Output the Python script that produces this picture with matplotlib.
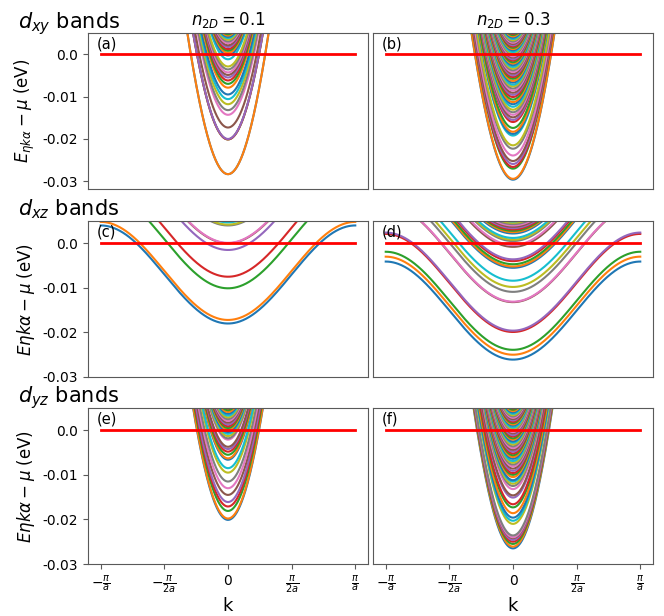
import matplotlib
matplotlib.use('Agg')
import matplotlib.pyplot as plt
import numpy as np

plt.rcParams['axes.unicode_minus'] = False
plt.rcParams['axes.edgecolor'] = '0.35'
plt.rcParams['xtick.color'] = '0.35'
plt.rcParams['ytick.color'] = '0.35'
plt.rcParams['xtick.labelcolor'] = 'black'
plt.rcParams['ytick.labelcolor'] = 'black'

# band minima (eV, relative to mu)
dxy_01 = [-0.0283, -0.0283, -0.0201, -0.0201, -0.0200, -0.0173, -0.0143, -0.0132, -0.0118, -0.0106,
          -0.0095, -0.0079, -0.0070, -0.0062, -0.0055, -0.0049, -0.0043, -0.0036, -0.0029, -0.0012,
          -0.0003, 0.0003, 0.0008, 0.0012, 0.0017, 0.0021, 0.0026, 0.0030, 0.0034, 0.0038,
          0.0041, 0.0044, 0.0047]
dxy_03 = [-0.0296, -0.0294, -0.0270, -0.0266, -0.0259, -0.0252, -0.0239, -0.0223, -0.0215, -0.0192,
          -0.0188, -0.0183, -0.0174, -0.0160, -0.0155, -0.0149, -0.0143, -0.0137, -0.0131, -0.0124,
          -0.0118, -0.0113, -0.0107, -0.0101, -0.0096, -0.0091, -0.0086, -0.0081, -0.0076, -0.0072,
          -0.0067, -0.0063, -0.0058, -0.0054, -0.0050, -0.0046, -0.0042, -0.0038, -0.0034, -0.0030,
          -0.0026, -0.0022, -0.0019, -0.0015, -0.0012, -0.0008, -0.0005, -0.0001, 0.0002, 0.0005,
          0.0009, 0.0012, 0.0015, 0.0018, 0.0021, 0.0024, 0.0027, 0.0030, 0.0033, 0.0036,
          0.0039, 0.0042, 0.0045, 0.0048]
dxz_01 = [-0.0180, -0.0172, -0.0101, -0.0075, -0.0015, 0.0000, 0.0001, 0.0040, 0.0042, 0.0047]
dxz_03 = [-0.0261, -0.0250, -0.0239, -0.0199, -0.0196, -0.0132, -0.0131, -0.0109, -0.0098, -0.0084,
          -0.0055, -0.0052, -0.0047, -0.0040, -0.0036, -0.0008, -0.0004, 0.0005, 0.0008, 0.0012,
          0.0022, 0.0025, 0.0028, 0.0031, 0.0034, 0.0037, 0.0040, 0.0043, 0.0046, 0.0049]
dyz_01 = [-0.0201, -0.0198, -0.0181, -0.0171, -0.0161, -0.0145, -0.0130, -0.0115, -0.0095, -0.0085,
          -0.0066, -0.0063, -0.0055, -0.0048, -0.0042, -0.0037, -0.0021, -0.0018, -0.0013, -0.0008,
          -0.0004, 0.0001, 0.0005, 0.0009, 0.0013, 0.0017, 0.0021, 0.0025, 0.0029, 0.0033,
          0.0037, 0.0041, 0.0045, 0.0049]
dyz_03 = [-0.0265, -0.0261, -0.0255, -0.0250, -0.0246, -0.0242, -0.0240, -0.0236, -0.0210, -0.0203,
          -0.0196, -0.0186, -0.0173, -0.0166, -0.0151, -0.0146, -0.0132, -0.0125, -0.0120, -0.0115,
          -0.0112, -0.0105, -0.0100, -0.0096, -0.0091, -0.0086, -0.0081, -0.0077, -0.0073, -0.0069,
          -0.0064, -0.0060, -0.0056, -0.0052, -0.0048, -0.0044, -0.0040, -0.0036, -0.0032, -0.0028,
          -0.0025, -0.0021, -0.0018, -0.0014, -0.0011, -0.0007, -0.0004, 0.0000, 0.0003, 0.0006,
          0.0010, 0.0013, 0.0016, 0.0019, 0.0022, 0.0025, 0.0028, 0.0031, 0.0034, 0.0037,
          0.0040, 0.0043, 0.0046, 0.0049]

# hopping widths along k (eV)
w_light = 0.072
w_heavy = 0.011

panels = [[dxy_01, dxy_03], [dxz_01, dxz_03], [dyz_01, dyz_03]]
widths = [w_light, w_heavy, w_light]
row_names = [r'$d_{xy}$ bands', r'$d_{xz}$ bands', r'$d_{yz}$ bands']
ylabels = [r'$E_{\eta k\alpha} - \mu$ (eV)', r'$E\eta k\alpha - \mu$ (eV)', r'$E\eta k\alpha - \mu$ (eV)']
col_titles = [r'$n_{2D}=0.1$', r'$n_{2D}=0.3$']
letters = ['(a)', '(b)', '(c)', '(d)', '(e)', '(f)']
yt = [0.0, -0.01, -0.02, -0.03]
ytl = ['0.0', '-0.01', '-0.02', '-0.03']
xt = [-np.pi, -np.pi/2, 0, np.pi/2, np.pi]
xtl = [r'$-\frac{\pi}{a}$', r'$-\frac{\pi}{2a}$', '0', r'$\frac{\pi}{2a}$', r'$\frac{\pi}{a}$']

k = np.linspace(-np.pi, np.pi, 400)

fig = plt.figure(figsize=(6.64, 6.16), dpi=100)
lefts = [88/664, 373/664]
bottoms = [1-189/616, 1-377/616, 1-564/616]
w, h = 280/664, 156/616
ylims = [(-0.0318, 0.005), (-0.03, 0.005), (-0.03, 0.005)]
title_y = [28, 215, 402]

for r in range(3):
    for c in range(2):
        ax = fig.add_axes([lefts[c], bottoms[r], w, h])
        for e0 in panels[r][c]:
            ax.plot(k, e0 + widths[r]*(1 - np.cos(k)))
        ax.plot(k, 0*k, 'r', lw=2)
        ax.set_ylim(*ylims[r])
        ax.text(0.03, 0.975, letters[2*r + c], transform=ax.transAxes, va='top', fontsize=10.5)
        if c == 0:
            ax.set_yticks(yt)
            ax.set_yticklabels(ytl)
            ax.set_ylabel(ylabels[r], fontsize=12)
        else:
            ax.set_yticks([])
        if r == 2:
            ax.set_xticks(xt)
            ax.set_xticklabels(xtl)
            ax.set_xlabel('k', fontsize=13, labelpad=1)
        else:
            ax.set_xticks([])
        if r == 0:
            ax.set_title(col_titles[c], fontsize=12)
    fig.text(18/664, 1 - title_y[r]/616, row_names[r], fontsize=15, va='baseline')

plt.savefig('out.png', dpi=100)
